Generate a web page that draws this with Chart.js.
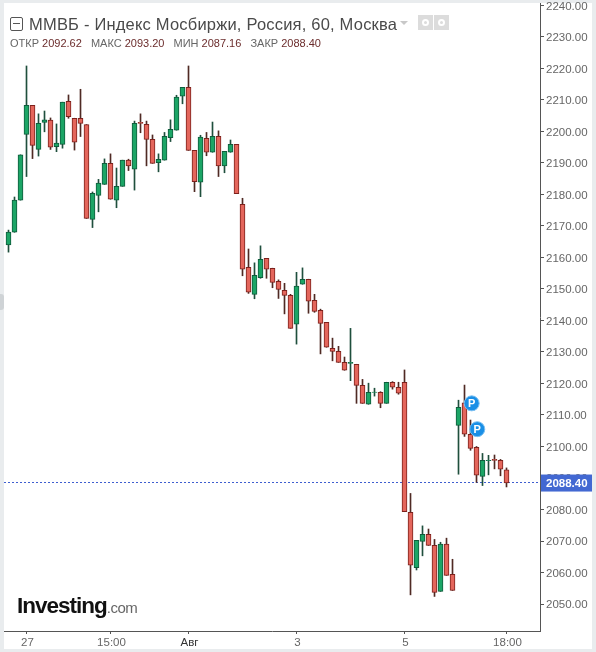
<!DOCTYPE html>
<html>
<head>
<meta charset="utf-8">
<title>ММВБ</title>
<script src="https://cdn.jsdelivr.net/npm/chart.js@4"></script>
<style>
  html, body { margin: 0; padding: 0; background: #e9ecee; overflow: hidden; }
  #wrap { position: relative; width: 596px; height: 652px; font-family: "Liberation Sans", Arial, sans-serif; }
  #panel { position: absolute; left: 4px; top: 3px; width: 588px; height: 646px; background: #fff; }
  #tab { position: absolute; left: 0; top: 294px; width: 4px; height: 16px; background: #cfd3d6; border-radius: 0 3px 3px 0; }
  canvas { position: absolute; left: 0; top: 0; }
  .abs { position: absolute; white-space: nowrap; }
  #collapse { left: 10px; top: 17px; width: 11px; height: 12px; border: 1px solid #555; border-radius: 2px; }
  #collapse i { position: absolute; left: 2px; right: 2px; top: 5px; height: 1px; background: #555; }
  #title { left: 29px; top: 14px; font-size: 16.5px; line-height: 20px; color: #4a4a4a; letter-spacing: 0.2px; }
  #arrow { left: 400px; top: 21px; width: 0; height: 0; border: 4px solid transparent; border-top: 4px solid #c8c8c8; }
  .icon { top: 15px; width: 15px; height: 15px; background: #dcdcdc; }
  .icon i { position: absolute; left: 4px; top: 4px; width: 3px; height: 3px; border: 2px solid #fff; border-radius: 50%; }
  #ohlc { left: 10px; top: 36px; font-size: 11px; line-height: 14px; color: #666; }
  #ohlc b { font-weight: normal; color: #6b2c2c; margin-right: 6px; }
  #logo { left: 17px; top: 593px; font-size: 22.5px; line-height: 26px; font-weight: bold; color: #111; letter-spacing: -1px; }
  #logo span { font-size: 15px; font-weight: normal; color: #666; letter-spacing: -0.5px; }
</style>
</head>
<body>
<div id="wrap">
  <div id="panel"></div>
  <div id="tab"></div>
  <canvas id="chart" width="596" height="652"></canvas>
  <div class="abs" id="collapse"><i></i></div>
  <div class="abs" id="title">ММВБ - Индекс Мосбиржи, Россия, 60, Москва</div>
  <div class="abs" id="arrow"></div>
  <div class="abs icon" style="left:418px"><i></i></div>
  <div class="abs icon" style="left:434px"><i></i></div>
  <div class="abs" id="ohlc">ОТКР <b>2092.62</b> МАКС <b>2093.20</b> МИН <b>2087.16</b> ЗАКР <b>2088.40</b></div>
  <div class="abs" id="logo">Investing<span>.com</span></div>
</div>
<script>
const opens = [2164.0, 2168.0, 2178.2, 2199.1, 2208.3, 2194.3, 2202.9, 2203.6, 2195.2, 2195.9, 2209.6, 2204.2, 2204.2, 2202.2, 2172.1, 2179.7, 2183.2, 2189.9, 2178.2, 2182.6, 2190.9, 2188.0, 2202.9, 2202.3, 2197.5, 2190.1, 2190.9, 2198.0, 2200.4, 2211.2, 2214.0, 2194.0, 2183.9, 2197.8, 2193.4, 2198.5, 2189.1, 2193.4, 2195.9, 2176.9, 2156.9, 2148.3, 2153.6, 2159.7, 2156.6, 2152.4, 2149.6, 2148.0, 2138.8, 2151.5, 2153.1, 2146.4, 2143.2, 2139.4, 2131.2, 2130.2, 2126.7, 2126.4, 2126.1, 2119.4, 2113.4, 2117.2, 2117.2, 2113.7, 2120.4, 2118.8, 2120.4, 2079.1, 2061.5, 2069.9, 2072.1, 2068.6, 2054.0, 2069.0, 2059.4, 2106.7, 2113.9, 2103.9, 2099.7, 2090.5, 2095.5, 2095.9, 2095.6, 2092.62];
const highs = [2168.7, 2179.2, 2192.6, 2220.8, 2208.3, 2205.6, 2206.5, 2204.3, 2202.4, 2209.3, 2211.6, 2204.2, 2213.4, 2202.2, 2180.8, 2184.8, 2191.3, 2192.9, 2188.4, 2190.9, 2191.2, 2203.3, 2205.6, 2203.3, 2198.9, 2192.9, 2199.7, 2203.7, 2211.5, 2214.0, 2220.8, 2194.0, 2198.8, 2199.7, 2203.0, 2200.2, 2193.7, 2197.3, 2195.9, 2178.8, 2162.7, 2158.3, 2163.7, 2159.7, 2156.6, 2152.9, 2151.8, 2148.3, 2155.3, 2156.7, 2153.1, 2148.3, 2143.6, 2139.4, 2134.4, 2131.8, 2128.4, 2137.5, 2126.1, 2121.3, 2120.1, 2118.5, 2117.4, 2120.4, 2120.6, 2120.4, 2124.3, 2085.1, 2070.2, 2074.8, 2073.8, 2070.5, 2069.6, 2070.9, 2064.2, 2114.7, 2119.5, 2108.4, 2100.0, 2097.8, 2097.2, 2097.3, 2095.9, 2093.20];
const lows = [2161.7, 2168.0, 2178.2, 2185.7, 2191.4, 2192.2, 2199.9, 2194.3, 2193.6, 2194.7, 2204.2, 2194.1, 2198.4, 2172.4, 2169.5, 2174.5, 2183.2, 2178.5, 2175.8, 2182.6, 2187.6, 2181.4, 2199.6, 2189.1, 2189.9, 2187.2, 2190.9, 2196.8, 2200.4, 2208.8, 2194.0, 2180.9, 2179.3, 2192.3, 2193.4, 2185.7, 2186.9, 2193.4, 2180.3, 2154.2, 2148.6, 2146.9, 2153.4, 2153.4, 2150.4, 2147.0, 2142.1, 2137.5, 2132.5, 2151.5, 2142.3, 2142.6, 2129.4, 2131.5, 2127.2, 2126.7, 2124.2, 2120.9, 2113.7, 2113.7, 2113.4, 2116.0, 2112.3, 2113.7, 2118.2, 2116.6, 2079.3, 2052.9, 2060.8, 2065.3, 2068.6, 2052.4, 2054.0, 2059.1, 2054.3, 2091.2, 2103.2, 2098.8, 2088.6, 2087.6, 2091.0, 2092.9, 2090.7, 2087.16];
const closes = [2168.1, 2178.2, 2192.6, 2208.3, 2195.6, 2202.6, 2203.7, 2195.0, 2196.3, 2209.3, 2204.7, 2196.6, 2202.6, 2172.4, 2180.4, 2183.6, 2189.9, 2178.5, 2182.6, 2190.9, 2189.1, 2202.6, 2202.6, 2197.5, 2189.9, 2191.2, 2198.5, 2200.7, 2210.9, 2214.0, 2194.0, 2184.1, 2198.2, 2193.4, 2198.5, 2189.1, 2193.7, 2195.9, 2180.3, 2156.3, 2149.0, 2154.3, 2159.4, 2156.3, 2152.1, 2149.9, 2148.0, 2137.5, 2150.9, 2153.1, 2146.1, 2142.9, 2139.1, 2131.5, 2130.2, 2126.7, 2124.2, 2126.7, 2119.4, 2113.7, 2117.2, 2117.3, 2113.7, 2120.4, 2118.8, 2116.9, 2079.3, 2062.3, 2070.2, 2072.1, 2068.6, 2053.7, 2069.0, 2059.1, 2054.3, 2112.4, 2103.9, 2099.4, 2090.9, 2095.6, 2095.6, 2095.6, 2092.8, 2088.40];

const priceTicks = [2050, 2060, 2070, 2080, 2090, 2100, 2110, 2120, 2130, 2140, 2150, 2160, 2170, 2180, 2190, 2200, 2210, 2220, 2230, 2240];
const timeTickIndex = [3, 17, 30, 48, 66, 83];
const timeTickLabels = ['27', '15:00', 'Авг', '3', '5', '18:00'];

const markerIndex = [77.2, 78.13];
const markerPrice = [2113.7, 2105.5];
const markerLabel = 'P';
const lastPrice = 2088.40;

const upFill = '#1ca566', downFill = '#e4665c';
const upEdge = '#0f5c3c', downEdge = '#7c211c';
const isUp = opens.map((o, i) => closes[i] >= o);

const wicks = lows.map((l, i) => ({ x: i, y: [l, highs[i]] }));
const bodies = opens.map((o, i) => ({ x: i, y: [o, closes[i]] }));
const markers = markerIndex.map((x, i) => ({ x: x, y: markerPrice[i] }));

// the library reserves room for half a label at each end, the original does not
function noScalePadding(scale) {
  scale.paddingLeft = 0;
  scale.paddingRight = 0;
  scale.paddingTop = 0;
  scale.paddingBottom = 0;
}

// dashed last price line + price tag on the axis + letter on the round markers
const overlayPlugin = {
  id: 'overlay',
  beforeDatasetsDraw(chart) {
    const { ctx, chartArea, scales } = chart;
    const y = Math.round(scales.y.getPixelForValue(lastPrice)) - 0.5;
    ctx.save();
    ctx.strokeStyle = '#3f5fd0';
    ctx.lineWidth = 1;
    ctx.setLineDash([2, 2]);
    ctx.beginPath();
    ctx.moveTo(chartArea.left, y);
    ctx.lineTo(chartArea.right, y);
    ctx.stroke();
    ctx.restore();
  },
  afterDraw(chart) {
    const { ctx, chartArea, scales } = chart;
    const y = scales.y.getPixelForValue(lastPrice);
    ctx.save();
    ctx.fillStyle = '#4268d2';
    ctx.fillRect(chartArea.right + 1, y - 8.5, 51, 17);
    ctx.fillStyle = '#fff';
    ctx.font = 'bold 11.5px "Liberation Sans", Arial, sans-serif';
    ctx.textAlign = 'left';
    ctx.textBaseline = 'middle';
    ctx.fillText(lastPrice.toFixed(2), chartArea.right + 6, y + 0.5);

    ctx.font = 'bold 11px "Liberation Sans", Arial, sans-serif';
    ctx.textAlign = 'center';
    chart.getDatasetMeta(0).data.forEach(pt => {
      ctx.fillText(markerLabel, pt.x, pt.y + 0.5);
    });
    ctx.restore();
  }
};

new Chart(document.getElementById('chart'), {
  type: 'bar',
  data: {
    datasets: [
      {
        type: 'scatter',
        data: markers,
        order: 0,
        showLine: false,
        pointRadius: 7.5,
        pointBackgroundColor: '#1a8fe6',
        pointBorderColor: '#7cc0f2',
        pointBorderWidth: 1
      },
      {
        data: bodies,
        order: 1,
        barThickness: 5,
        grouped: false,
        borderWidth: 1,
        borderSkipped: false,
        backgroundColor: isUp.map(u => u ? upFill : downFill),
        borderColor: isUp.map(u => u ? upEdge : downEdge)
      },
      {
        data: wicks,
        order: 2,
        barThickness: 1,
        grouped: false,
        borderWidth: 0,
        backgroundColor: isUp.map(u => u ? '#1f4f3d' : '#4f2a24')
      }
    ]
  },
  options: {
    responsive: false,
    animation: false,
    events: [],
    layout: { autoPadding: false, padding: { left: 4, right: 4, top: 3, bottom: 3 } },
    plugins: { legend: { display: false }, tooltip: { enabled: false } },
    scales: {
      x: {
        type: 'linear',
        offset: false,
        min: -0.75,
        max: 88.5833,
        afterBuildTicks: scale => { scale.ticks = timeTickIndex.map(v => ({ value: v })); },
        afterFit: scale => { scale.height = 18; noScalePadding(scale); },
        grid: { offset: false, drawOnChartArea: false, tickLength: 3, color: '#555' },
        border: { color: '#555', width: 1 },
        ticks: {
          autoSkip: false,
          maxRotation: 0,
          padding: 2,
          labelOffset: 1,
          color: ctx => ctx.index === 2 ? '#333' : '#666',
          font: { family: '"Liberation Sans", Arial, sans-serif', size: 11.5 },
          callback: (value, i) => timeTickLabels[i]
        }
      },
      y: {
        position: 'right',
        min: 2041.43,
        max: 2240.79,
        afterBuildTicks: scale => { scale.ticks = priceTicks.map(v => ({ value: v })); },
        afterFit: scale => { scale.width = 52; noScalePadding(scale); },
        grid: { drawOnChartArea: false, tickLength: 4, color: '#555' },
        border: { color: '#555', width: 1 },
        ticks: {
          autoSkip: false,
          padding: 2,
          labelOffset: 1,
          color: '#666',
          font: { family: '"Liberation Sans", Arial, sans-serif', size: 11.5 },
          callback: value => value.toFixed(2)
        }
      }
    }
  },
  plugins: [overlayPlugin]
});
</script>
</body>
</html>
